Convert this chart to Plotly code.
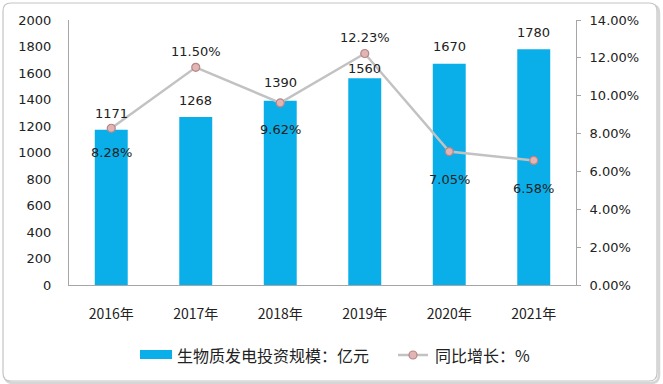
import plotly.graph_objects as go

years = ["2016年", "2017年", "2018年", "2019年", "2020年", "2021年"]
invest = [1171, 1268, 1390, 1560, 1670, 1780]
growth = [8.28, 11.50, 9.62, 12.23, 7.05, 6.58]
growth_shift = [-24, 16, -27, 16, -28, -28]
invest_shift = [16, 16, 18, 10, 17, 17]
left_ticks = list(range(0, 2001, 200))
right_ticks = [0, 2, 4, 6, 8, 10, 12, 14]
bar_name = "生物质发电投资规模：亿元"
line_name = "同比增长：%"

num_font = "DejaVu Sans, Verdana, sans-serif"
cjk_font = "Noto Sans CJK SC, sans-serif"
bar_color = "#0AAFEA"
line_color = "#C2C2C2"

fig = go.Figure()
fig.add_trace(go.Bar(
    x=years, y=invest, name=bar_name,
    marker=dict(color=bar_color, line=dict(width=0)),
    width=0.39, showlegend=False, hoverinfo="skip",
))
fig.add_trace(go.Scatter(
    x=years, y=growth, name=line_name, yaxis="y2",
    mode="lines+markers",
    line=dict(color=line_color, width=2.5),
    marker=dict(size=8, color="#E2B4B4", line=dict(color="#B58686", width=1.2)),
    cliponaxis=False, showlegend=False, hoverinfo="skip",
))

annotations = []
for x, v, s in zip(years, invest, invest_shift):
    annotations.append(dict(x=x, y=v, xref="x", yref="y", text=str(v), showarrow=False,
                            yshift=s, font=dict(family=num_font, size=13, color="#222")))
for x, v, s in zip(years, growth, growth_shift):
    annotations.append(dict(x=x, y=v, xref="x", yref="y2", text=f"{v:.2f}%", showarrow=False,
                            yshift=s, font=dict(family=num_font, size=13, color="#222")))

# pixel -> paper coords (plot area 507 x 265 px, origin at (69,285))
W, H = 507.0, 265.0
def px(xp):
    return (xp - 69) / W
def py(yp):
    return (285 - yp) / H

def rounded(x0, y0, x1, y1, r):
    pts = [
        f"M {px(x0 + r)} {py(y0)}",
        f"L {px(x1 - r)} {py(y0)}",
        f"Q {px(x1)} {py(y0)} {px(x1)} {py(y0 + r)}",
        f"L {px(x1)} {py(y1 - r)}",
        f"Q {px(x1)} {py(y1)} {px(x1 - r)} {py(y1)}",
        f"L {px(x0 + r)} {py(y1)}",
        f"Q {px(x0)} {py(y1)} {px(x0)} {py(y1 - r)}",
        f"L {px(x0)} {py(y0 + r)}",
        f"Q {px(x0)} {py(y0)} {px(x0 + r)} {py(y0)}",
        "Z",
    ]
    return " ".join(pts)

annotations.append(dict(xref="paper", yref="paper", x=px(175), y=py(355), xanchor="left",
                        yanchor="middle", text=bar_name, showarrow=False,
                        font=dict(family=cjk_font, size=16, color="#222")))
annotations.append(dict(xref="paper", yref="paper", x=px(433), y=py(355), xanchor="left",
                        yanchor="middle", text=line_name, showarrow=False,
                        font=dict(family=cjk_font, size=16, color="#222")))

shapes = [
    dict(type="path", xref="paper", yref="paper", path=rounded(5, 5, 659, 383, 8),
         line=dict(color="#D6D6D6", width=2.5), layer="below"),
    dict(type="path", xref="paper", yref="paper", path=rounded(3, 3, 657, 381, 8),
         fillcolor="white", line=dict(color="#C4C4C4", width=1.2), layer="below"),
    dict(type="rect", xref="paper", yref="paper",
         x0=px(140), x1=px(172), y0=py(359), y1=py(350),
         fillcolor=bar_color, line=dict(width=0)),
    dict(type="line", xref="paper", yref="paper",
         x0=px(398), x1=px(428), y0=py(355), y1=py(355),
         line=dict(color=line_color, width=2.5)),
    dict(type="circle", xref="paper", yref="paper",
         x0=px(409), x1=px(417), y0=py(359), y1=py(351),
         fillcolor="#E2B4B4", line=dict(color="#B58686", width=1.2)),
]

fig.update_layout(
    width=663, height=384,
    margin=dict(l=69, r=87, t=20, b=99, autoexpand=False),
    paper_bgcolor="white", plot_bgcolor="rgba(0,0,0,0)",
    showlegend=False,
    xaxis=dict(
        showline=True, linecolor="#A6A6A6", linewidth=1, ticks="",
        tickfont=dict(family=cjk_font, size=14, color="#222"),
        showgrid=False, ticklabelstandoff=16,
    ),
    yaxis=dict(
        range=[0, 2000], tickvals=left_ticks, showgrid=False,
        showline=True, linecolor="#A6A6A6", linewidth=1, ticks="",
        tickfont=dict(family=num_font, size=13, color="#222"),
        zeroline=False, ticklabelstandoff=14,
    ),
    yaxis2=dict(
        range=[0, 14], tickvals=right_ticks,
        ticktext=[f"{v:.2f}%" for v in right_ticks],
        overlaying="y", side="right", showgrid=False,
        showline=True, linecolor="#A6A6A6", linewidth=1,
        ticks="outside", ticklen=4, tickcolor="#A6A6A6",
        tickfont=dict(family=num_font, size=13, color="#222"),
        zeroline=False, ticklabelstandoff=6,
    ),
    annotations=annotations,
    shapes=shapes,
)

fig.write_html("out.html", config={"displayModeBar": False},
               post_script="document.body.style.margin='0';document.body.style.overflow='hidden';")
